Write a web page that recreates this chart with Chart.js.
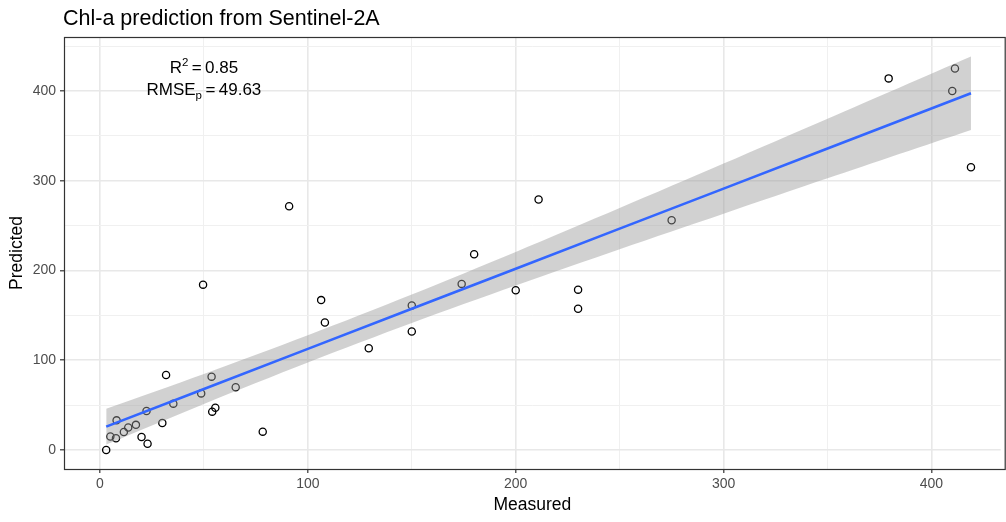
<!DOCTYPE html>
<html>
<head>
<meta charset="utf-8">
<title>Chl-a prediction from Sentinel-2A</title>
<script src="https://cdn.jsdelivr.net/npm/chart.js@4.4.1/dist/chart.umd.min.js"></script>
<style>
  html, body { margin: 0; padding: 0; background: #fff; }
  #wrap { width: 1006px; height: 522px; position: relative; }
</style>
</head>
<body>
<div id="wrap"><canvas id="chart"></canvas></div>
<script>
// ─── Data ────────────────────────────────────────────────────────
const measured  = [3, 5, 7.7, 8, 11.5, 13.6, 17.3, 20, 22.9, 22.4, 30, 31.8, 35.3, 48.7, 49.6,
                   53.7, 54, 55.5, 65.3, 78.3, 91, 106.4, 108.2, 129.3, 150, 150, 174, 180,
                   200, 211, 230, 230, 275, 379.4, 411.3, 410, 419];
const predicted = [0, 15, 13, 33, 20, 25, 28, 14.5, 7, 43.5, 30, 83.6, 51.6, 63, 184.2,
                   81.7, 42.7, 47, 70, 20.4, 271.5, 167, 142, 113.3, 132, 161, 185, 218,
                   178, 279, 178.6, 157.4, 256, 414, 425, 400, 315];

// lm fit and its confidence band
const fitX      = [3, 50, 100, 150, 200, 250, 300, 350, 419];
const fitY      = [26.0, 68.0, 112.6, 157.3, 201.9, 246.6, 291.2, 335.9, 397.5];
const bandUpper = [46.0, 84.7, 127.7, 173.1, 220.6, 269.5, 319.1, 369.1, 438.5];
const bandLower = [6.0, 51.3, 97.5, 141.5, 183.2, 223.7, 263.3, 302.7, 356.5];

// major ticks (labelled) and minor grid lines
const xTicks = [0, 100, 200, 300, 400];
const xMinor = [50, 150, 250, 350];
const yTicks = [0, 100, 200, 300, 400];
const yMinor = [50, 150, 250, 350, 450];

const r2Value   = '0.85';
const rmseValue = '49.63';

// ─── Helpers ─────────────────────────────────────────────────────
const FONT = '"Liberation Sans", Arial, Helvetica, sans-serif';
const pts = (xs, ys) => xs.map((x, i) => ({ x, y: ys[i] }));
const isMajor = (v, list) => list.includes(v);

function gridStyle(list) {
  return {
    color: ctx => (ctx.tick && isMajor(ctx.tick.value, list)) ? '#e8e8e8' : '#f0f0f0',
    lineWidth: ctx => (ctx.tick && isMajor(ctx.tick.value, list)) ? 1.6 : 1,
    tickLength: 4,
    tickWidth: 1.2,
    tickColor: ctx => (ctx.tick && isMajor(ctx.tick.value, list)) ? '#333333' : 'rgba(0,0,0,0)',
    drawTicks: true
  };
}

function setTicks(major, minor) {
  return s => {
    s.ticks = major.concat(minor).sort((a, b) => a - b).map(value => ({ value }));
  };
}

// panel border, title and the R² / RMSE note
const decor = {
  id: 'decor',
  afterDatasetsDraw(chart) {
    const { ctx, chartArea: a, scales } = chart;
    ctx.save();
    ctx.strokeStyle = '#333333';
    ctx.lineWidth = 1.2;
    ctx.strokeRect(a.left + 0.5, a.top + 0.5, a.right - a.left + 4, a.bottom - a.top);

    // plot title
    ctx.fillStyle = '#000';
    ctx.font = '21.5px ' + FONT;
    ctx.textBaseline = 'alphabetic';
    ctx.textAlign = 'left';
    ctx.fillText('Chl-a prediction from Sentinel-2A', 63, 25);

    // annotation, centred on x = 50
    const cx = scales.x.getPixelForValue(50);
    drawRich(ctx, cx, scales.y.getPixelForValue(420), [
      ['R', 17, 0], ['2', 11.5, -7], ['\u2009=\u2009' + r2Value, 17, 0]
    ]);
    drawRich(ctx, cx, scales.y.getPixelForValue(395.5), [
      ['RMSE', 17, 0], ['p', 11.5, 4], ['\u2009=\u2009' + rmseValue, 17, 0]
    ]);
    ctx.restore();
  }
};

function drawRich(ctx, cx, y, parts) {
  let total = 0;
  parts.forEach(p => { ctx.font = p[1] + 'px ' + FONT; total += ctx.measureText(p[0]).width; });
  let x = cx - total / 2;
  ctx.textAlign = 'left';
  parts.forEach(p => {
    ctx.font = p[1] + 'px ' + FONT;
    ctx.fillText(p[0], x, y + p[2]);
    x += ctx.measureText(p[0]).width;
  });
}

// ─── Chart ───────────────────────────────────────────────────────
new Chart(document.getElementById('chart'), {
  type: 'scatter',
  data: {
    datasets: [
      {
        label: 'Observations',
        data: pts(measured, predicted),
        order: 3,
        pointRadius: 3.6,
        pointBorderWidth: 1.3,
        pointBorderColor: '#000000',
        pointBackgroundColor: 'rgba(0,0,0,0)'
      },
      {
        label: 'upper',
        type: 'line',
        data: pts(fitX, bandUpper),
        order: 2,
        borderWidth: 0,
        pointRadius: 0,
        tension: 0.3,
        fill: '+1',
        backgroundColor: 'rgba(153,153,153,0.45)'
      },
      {
        label: 'lower',
        type: 'line',
        data: pts(fitX, bandLower),
        order: 2,
        borderWidth: 0,
        pointRadius: 0,
        tension: 0.3,
        fill: false
      },
      {
        label: 'fit',
        type: 'line',
        data: pts(fitX, fitY),
        order: 1,
        borderColor: '#3366FF',
        borderWidth: 2.6,
        pointRadius: 0,
        fill: false
      }
    ]
  },
  options: {
    responsive: true,
    maintainAspectRatio: false,
    animation: false,
    layout: { padding: { top: 37, right: 0, bottom: 0, left: 0 } },
    plugins: {
      legend: { display: false },
      tooltip: { enabled: false }
    },
    scales: {
      x: {
        type: 'linear',
        min: -17.3,
        max: 433.3,
        afterBuildTicks: setTicks(xTicks, xMinor),
        afterFit: s => { s.height = 53; },
        ticks: {
          autoSkip: false,
          maxRotation: 0,
          padding: 3,
          color: '#4d4d4d',
          font: { family: FONT, size: 14 },
          callback: v => isMajor(v, xTicks) ? v : ''
        },
        grid: gridStyle(xTicks),
        border: { display: false },
        title: {
          display: true,
          text: 'Measured',
          color: '#000',
          font: { family: FONT, size: 17.5 },
          padding: { top: 0, bottom: 6 }
        }
      },
      y: {
        type: 'linear',
        min: -21.2,
        max: 460.1,
        afterBuildTicks: setTicks(yTicks, yMinor),
        afterFit: s => { s.width = 64; },
        ticks: {
          autoSkip: false,
          padding: 4,
          color: '#4d4d4d',
          font: { family: FONT, size: 14 },
          callback: v => isMajor(v, yTicks) ? v : ''
        },
        grid: gridStyle(yTicks),
        border: { display: false },
        title: {
          display: true,
          text: 'Predicted',
          color: '#000',
          font: { family: FONT, size: 17.5 },
          padding: { top: 7, bottom: 0 }
        }
      }
    }
  },
  plugins: [decor]
});
</script>
</body>
</html>
